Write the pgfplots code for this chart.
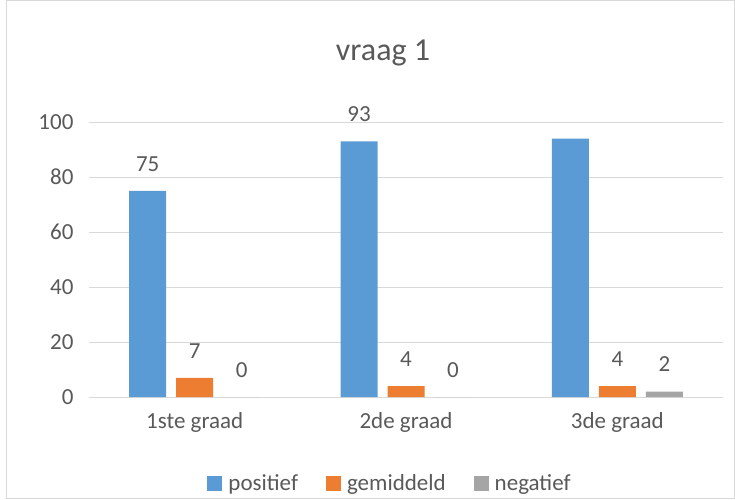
\documentclass[border=0pt]{standalone}
\usepackage{pgfplots}
\pgfplotsset{compat=1.18}
\usepackage{fontspec}
\setmainfont{Carlito}
\definecolor{cblue}{HTML}{5B9BD5}
\definecolor{corange}{HTML}{ED7D31}
\definecolor{cgray}{HTML}{A5A5A5}
\definecolor{cgrid}{HTML}{D9D9D9}
\definecolor{ctext}{HTML}{595959}
\begin{document}
\begin{tikzpicture}[x=1pt,y=1pt]
\path[use as bounding box] (0,0) rectangle (735,499);
\draw[cgrid, line width=1pt] (6,1) rectangle (734,498);
\node[text=ctext, font=\fontsize{32}{38}\selectfont] at (383,446) {vraag 1};
\begin{axis}[
  at={(89pt,102pt)}, anchor=south west,
  scale only axis, width=634pt, height=275pt,
  xmin=-0.5, xmax=2.5, ymin=0, ymax=100,
  ybar=10pt, bar width=37pt,
  xtick={0,1,2}, xticklabels={1ste graad,2de graad,3de graad},
  ytick={0,20,40,60,80,100},
  ymajorgrids, grid style={cgrid, line width=1pt},
  axis line style={draw=none},
  major tick length=0pt,
  tick style={draw=none},
  /pgf/number format/assume math mode=true,
  ticklabel style={text=ctext, font=\fontsize{23}{27}\selectfont},
  yticklabel style={xshift=-12pt},
  xticklabel style={yshift=-12pt},
  nodes near coords,
  every node near coord/.append style={text=ctext, font=\fontsize{23}{27}\selectfont, anchor=center, yshift=27pt},
  legend columns=3,
  legend style={draw=none, at={(0.5,-0.313)}, anchor=center, xshift=-16pt, text=ctext, font=\fontsize{23}{27}\selectfont,
    /tikz/every odd column/.append style={column sep=4pt},
    /tikz/every even column/.append style={column sep=26pt}, inner xsep=1pt},
  legend image code/.code={\fill[#1] (0pt,-7.5pt) rectangle (15pt,7.5pt);},
  clip=false,
]
\draw[cgrid, line width=1pt] (rel axis cs:0,0) -- (rel axis cs:1,0);
\addplot[fill=cblue, draw=none, point meta=explicit symbolic] coordinates {(0,75) [75] (1,93) [93] (2,94) []};
\addplot[fill=corange, draw=none] coordinates {(0,7) (1,4) (2,4)};
\addplot[fill=cgray, draw=none] coordinates {(0,0) (1,0) (2,2)};
\legend{positief,gemiddeld,negatief}
\end{axis}
\end{tikzpicture}
\end{document}
